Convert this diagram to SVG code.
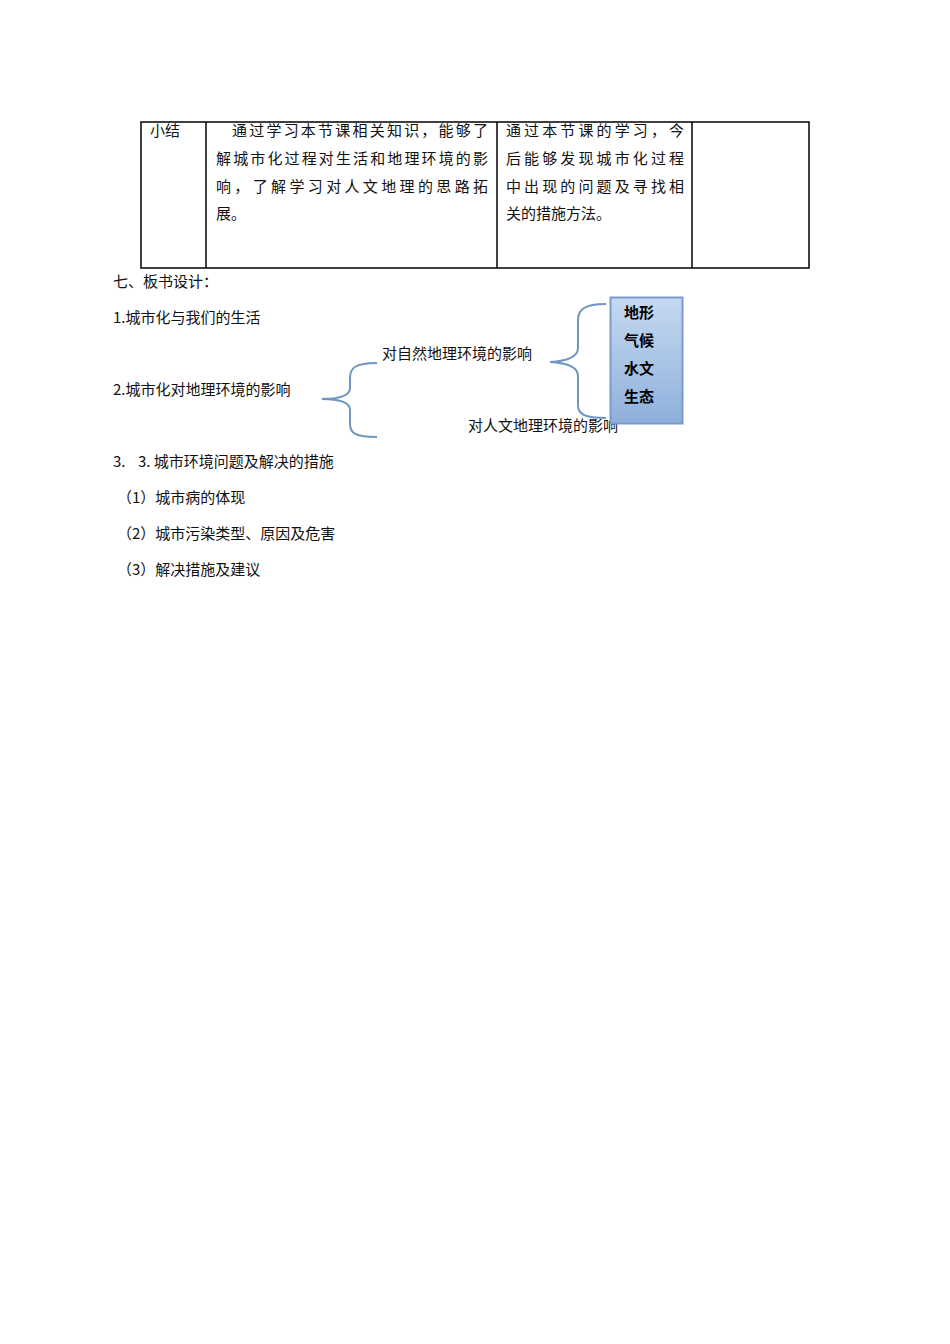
<svg xmlns="http://www.w3.org/2000/svg" width="950" height="1344" viewBox="0 0 950 1344">
<style>
text{font-family:"Noto Sans CJK SC","Liberation Serif",serif;font-size:15px;fill:#111}
.b{font-weight:bold;fill:#000}
.t{fill:none;stroke:#000;stroke-width:1.5}
.br{fill:none;stroke:#6f96c0;stroke-width:2}
</style>
<defs><linearGradient id="g" x1="0" y1="0" x2="0" y2="1"><stop offset="0" stop-color="#c5d9f1"/><stop offset="1" stop-color="#8fb0db"/></linearGradient></defs>
<rect width="950" height="1344" fill="#fff"/>
<g id="table">
<rect class="t" x="141" y="122" width="668" height="146"/>
<line class="t" x1="206" y1="122" x2="206" y2="268"/>
<line class="t" x1="497" y1="122" x2="497" y2="268"/>
<line class="t" x1="692" y1="122" x2="692" y2="268"/>
<text x="150" y="136">小结</text>
<text x="232" y="136" textLength="256">通过学习本节课相关知识，能够了</text>
<text x="216" y="164" textLength="272">解城市化过程对生活和地理环境的影</text>
<text x="216" y="192" textLength="272">响，了解学习对人文地理的思路拓</text>
<text x="216" y="219">展。</text>
<text x="506" y="136" textLength="178">通过本节课的学习，今</text>
<text x="506" y="164" textLength="178">后能够发现城市化过程</text>
<text x="506" y="192" textLength="178">中出现的问题及寻找相</text>
<text x="506" y="219">关的措施方法。</text>
</g>
<text x="113" y="287">七、板书设计：</text>
<text x="113" y="323">1.城市化与我们的生活</text>
<text x="113" y="395">2.城市化对地理环境的影响</text>
<text x="382" y="359">对自然地理环境的影响</text>
<text x="468" y="431">对人文地理环境的影响</text>
<g id="connectors">
<path class="br" d="M377,363 C355,363 350,368 350,378 L350,388 C350,396 340,399 322,399 C340,399 350,402 350,410 L350,424 C350,433 355,437 377,437"/>
<path class="br" d="M606,304 C584,304 578,310 578,320 L578,348 C578,357 568,361 550,362 C568,363 578,367 578,376 L578,405 C578,414 584,418 606,418"/>
</g>
<g id="box">
<rect x="610.5" y="297.5" width="72" height="126" fill="url(#g)" stroke="#7a9ccb" stroke-width="2"/>
<text class="b" x="624" y="318">地形</text>
<text class="b" x="624" y="346">气候</text>
<text class="b" x="624" y="374">水文</text>
<text class="b" x="624" y="402">生态</text>
</g>
<text x="138" y="467" style="font-size:15px">3.  城市环境问题及解决的措施</text>
<text x="113" y="467">3.</text>
<text x="117" y="503">（1）城市病的体现</text>
<text x="117" y="539">（2）城市污染类型、原因及危害</text>
<text x="117" y="575">（3）解决措施及建议</text>
</svg>
